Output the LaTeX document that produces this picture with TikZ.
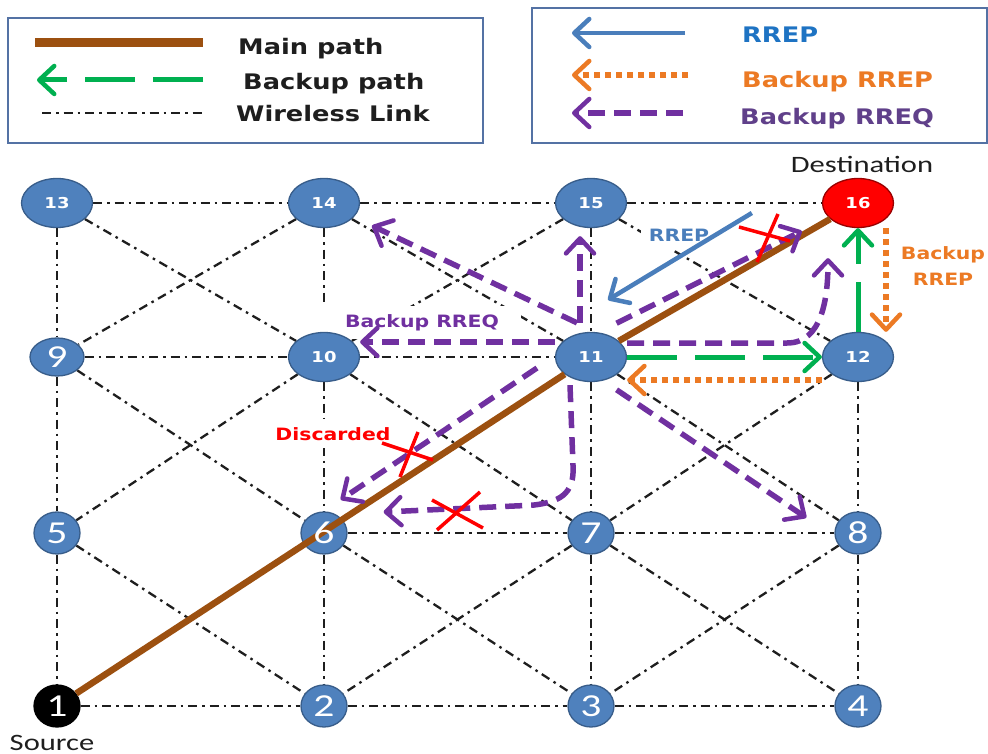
\documentclass[tikz,border=0pt]{standalone}
\usepackage{fontspec}
\usetikzlibrary{shapes.geometric,arrows.meta,backgrounds}
\newfontfamily\lblfont[FakeStretch=1.2]{DejaVu Sans}
\newfontfamily\capfont[FakeStretch=1.3]{Carlito}
\definecolor{nodeblue}{RGB}{79,129,189}
\definecolor{nodeedge}{RGB}{56,93,138}
\definecolor{destred}{RGB}{255,0,0}
\definecolor{mainbrown}{RGB}{156,80,16}
\definecolor{backgreen}{RGB}{0,176,80}
\definecolor{rrepblue}{RGB}{74,126,187}
\definecolor{rreptext}{RGB}{30,115,195}
\definecolor{backorange}{RGB}{236,122,36}
\definecolor{rreqpurple}{RGB}{112,48,160}
\definecolor{rreqtext}{RGB}{96,64,138}
\definecolor{linkgrey}{RGB}{30,30,30}
\definecolor{frameblue}{RGB}{84,114,164}

\begin{document}
\begin{tikzpicture}[x=1pt, y=-1pt, node distance=267pt,
    sensor/.style={ellipse, draw=nodeedge, line width=1.3pt, fill=nodeblue, text=white, inner sep=0pt},
    bignode/.style={sensor, minimum width=71pt, minimum height=49pt, font=\lblfont\bfseries\fontsize{15}{15}\selectfont},
    smallnode/.style={sensor, minimum width=46pt, minimum height=42pt, font=\capfont\fontsize{32}{32}\selectfont},
    wlink/.style={draw=linkgrey, line width=2.3pt, dash pattern=on 9pt off 5pt on 2.5pt off 5pt},
    mainpath/.style={draw=mainbrown, line width=6.5pt},
    barb/.style={-{Straight Barb[length=15pt,width=28pt,line width=4.5pt,round]}},
    backup/.style={barb, draw=backgreen, line width=5pt, dash pattern=on 50pt off 18pt},
    rrep/.style={barb, draw=rrepblue, line width=4.5pt},
    brrep/.style={barb, draw=backorange, line width=5.5pt, dash pattern=on 6pt off 5pt},
    brreq/.style={barb, draw=rreqpurple, line width=5.5pt, dash pattern=on 17pt off 9pt},
    cross/.style={draw=red, line width=3.5pt},
    tag/.style={fill=white, inner xsep=14pt, inner ysep=8pt, font=\lblfont\bfseries\fontsize{17}{26}\selectfont},
    caption/.style={text=linkgrey, font=\capfont\fontsize{23.5}{26}\selectfont},
    legtext/.style={anchor=base west, inner sep=0pt, font=\lblfont\bfseries\fontsize{21.4}{24}\selectfont},
    legbox/.style={draw=frameblue, line width=2.4pt, fill=white}]
    \useasboundingbox (0,0) rectangle (988,754);

    % Legend
    \draw[legbox] (8,18) rectangle (483,143);
    \draw[legbox] (532,8) rectangle (987,143);
    \node[legtext, text=linkgrey] (lgmain) at (238,55) {Main path};
    \node[legtext, text=linkgrey] (lgbackup) at (243,90) {Backup path};
    \node[legtext, text=linkgrey] (lglink) at (236,122) {Wireless Link};
    \node[legtext, text=rreptext] (lgrrep) at (742,43) {RREP};
    \node[legtext, text=backorange] (lgbrrep) at (742,88) {Backup RREP};
    \node[legtext, text=rreqtext] (lgbrreq) at (740,125) {Backup RREQ};
    \draw[mainpath, line width=9pt] (35,43) -- (203,43);
    \draw[backup] (203,80) -- (37,80);
    \draw[wlink] (42,113) -- (203,113);
    \draw[rrep] (685,33) -- (572,33);
    \draw[brrep] (688,75) -- (572,75);
    \draw[brreq] (683,113) -- (572,113);

    % Top row
    \node[bignode] (n13) at (57,203) {13};
    \node[bignode, right of=n13] (n14) {14};
    \node[bignode, right of=n14] (n15) {15};
    \node[bignode, fill=destred, draw=destred!60!black, right of=n15] (n16) {16};

    % Second row
    \node[smallnode, minimum width=54pt, minimum height=38pt, below of=n13, node distance=154pt] (n9) {9};
    \node[bignode, right of=n9] (n10) {10};
    \node[bignode, right of=n10] (n11) {11};
    \node[bignode, right of=n11] (n12) {12};

    % Third row
    \node[smallnode, below of=n9, node distance=176pt] (n5) {5};
    \node[smallnode, right of=n5] (n6) {};
    \node[smallnode, right of=n6] (n7) {7};
    \node[smallnode, right of=n7] (n8) {8};

    % Bottom row
    \node[smallnode, fill=black, draw=black, below of=n5, node distance=173pt] (n1) {1};
    \node[smallnode, right of=n1] (n2) {2};
    \node[smallnode, right of=n2] (n3) {3};
    \node[smallnode, right of=n3] (n4) {4};

    \node[caption, anchor=base] (dest) at (862,173) {Destination};
    \node[caption, anchor=base] (src) at (52,750) {Source};

    \begin{scope}[on background layer]
    % Wireless links
    \draw[wlink] (n13) -- (n14);
    \draw[wlink] (n14) -- (n15);
    \draw[wlink] (n15) -- (n16);
    \draw[wlink] (n9) -- (n10);
    \draw[wlink] (n10) -- (n11);
    \draw[wlink] (n6) -- (n7);
    \draw[wlink] (n7) -- (n8);
    \draw[wlink] (n1) -- (n2);
    \draw[wlink] (n2) -- (n3);
    \draw[wlink] (n3) -- (n4);
    \draw[wlink] (n13) -- (n9);
    \draw[wlink] (n9) -- (n5);
    \draw[wlink] (n5) -- (n1);
    \draw[wlink] (n14) -- (n10);
    \draw[wlink] (n10) -- (n6);
    \draw[wlink] (n6) -- (n2);
    \draw[wlink] (n15) -- (n11);
    \draw[wlink] (n11) -- (n7);
    \draw[wlink] (n7) -- (n3);
    \draw[wlink] (n12) -- (n8);
    \draw[wlink] (n8) -- (n4);
    \draw[wlink] (n13) -- (n10);
    \draw[wlink] (n14) -- (n9);
    \draw[wlink] (n14) -- (n11);
    \draw[wlink] (n15) -- (n10);
    \draw[wlink] (n15) -- (n12);
    \draw[wlink] (n9) -- (n6);
    \draw[wlink] (n10) -- (n5);
    \draw[wlink] (n10) -- (n7);
    \draw[wlink] (n11) -- (n8);
    \draw[wlink] (n12) -- (n7);
    \draw[wlink] (n5) -- (n2);
    \draw[wlink] (n6) -- (n3);
    \draw[wlink] (n7) -- (n2);
    \draw[wlink] (n7) -- (n4);
    \draw[wlink] (n8) -- (n3);

    % Labels
    \node[tag, text=rreqpurple, anchor=base, inner xsep=22pt] (tbrreq) at (422,327) {Backup RREQ};
    \node[tag, text=red, anchor=base] (tdisc) at (333,440) {Discarded};
    \node[tag, text=rrepblue, anchor=base, inner xsep=8pt] (trrep) at (679,242) {RREP};
    \node[tag, text=backorange, align=center, inner xsep=4pt] (tbrrep) at (943,266) {Backup\\RREP};
    \end{scope}

    % Main path
    \draw[mainpath] (n1) -- (n11);
    \draw[mainpath] (n11) -- (n16);
    \node[smallnode, fill=none, draw=none] (n6num) at (n6) {6};

    % Backup path
    \draw[backup] (n11) -- (n12);
    \draw[backup] (n12) -- (n16);

    % Backup RREP
    \draw[brrep] ([yshift=-23pt]n12.west) -- ([yshift=-23pt]n11.east);
    \draw[brrep] ([xshift=28pt]n16.south) -- ([xshift=28pt]n12.north);

    % RREP
    \draw[rrep] ([xshift=-70pt,yshift=-10pt]n16.west) -- ([xshift=17pt,yshift=32pt]n11.north);

    % Backup RREQ
    \draw[brreq, shorten >=20pt] ([xshift=-14pt,yshift=9pt]n11.north) -- (n14);
    \draw[brreq] ([xshift=-11pt,yshift=9pt]n11.north) -- ([xshift=-11pt,yshift=-8pt]n15.south);
    \draw[brreq] ([yshift=15pt]n11.west) -- ([yshift=15pt]n10.east);
    \draw[brreq, shorten >=30pt] ([yshift=16pt]n11.north east) -- (n16);
    \draw[brreq] ([yshift=14pt]n11.east) -- ++(160,0) .. controls +(35,0) and +(0,40) .. ([xshift=-30pt,yshift=-30pt]n16.south);
    \draw[brreq] ([yshift=-15pt]n11.south east) -- ([xshift=-35pt]n8.north west);
    \draw[brreq] ([shift={(-54,11)}]n11.center) -- ([yshift=18pt]n6.north east);
    \draw[brreq] ([xshift=-21pt,yshift=-3pt]n11.south) -- ++(3,80) .. controls +(2,30) and +(25,-3) .. ++(-40,40) -- ([xshift=36pt,yshift=21pt]n6.east);

    % Discarded
    \draw[cross] (739,227) -- (790,241);
    \draw[cross] (778,214) -- (757,262);
    \draw[cross] (382,443) -- (433,460);
    \draw[cross] (418,432) -- (400,477);
    \draw[cross] (432,500) -- (483,528);
    \draw[cross] (480,492) -- (437,530);
\end{tikzpicture}
\end{document}
